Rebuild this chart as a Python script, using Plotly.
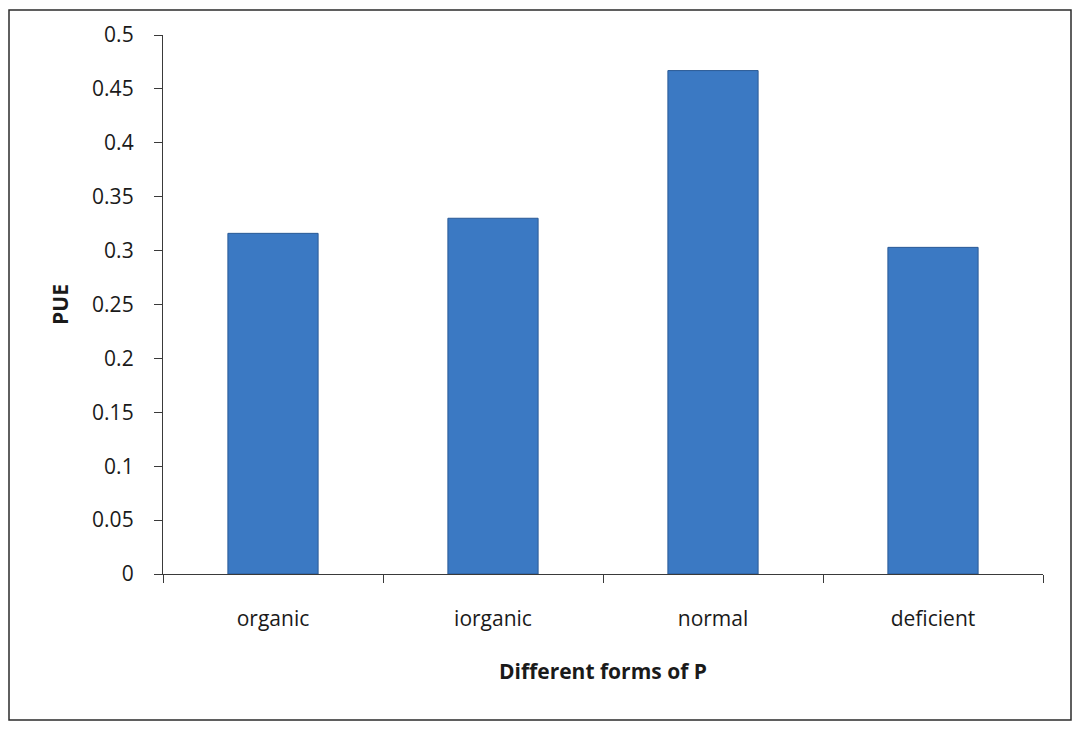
import plotly.graph_objects as go

# PUE for each form of phosphorus
categories = ["organic", "iorganic", "normal", "deficient"]
pue_values = [0.316, 0.330, 0.467, 0.303]
y_ticks = [0, 0.05, 0.1, 0.15, 0.2, 0.25, 0.3, 0.35, 0.4, 0.45, 0.5]
y_tick_labels = ["0", "0.05", "0.1", "0.15", "0.2", "0.25", "0.3", "0.35", "0.4", "0.45", "0.5"]

FONT = "'Open Sans', Lato, sans-serif"
TEXT = "#1a1a1a"
AXIS = "#3a3a3a"

# plot area in pixels, used to place the outer frame
PLOT_L, PLOT_R, PLOT_T, PLOT_B = 163, 1043, 35, 574
PW, PH = PLOT_R - PLOT_L, PLOT_B - PLOT_T

fig = go.Figure(
    go.Bar(
        x=categories,
        y=pue_values,
        marker=dict(color="#3b79c3", line=dict(color="#2a5a96", width=1)),
        width=0.41,
    )
)

fig.update_layout(
    width=1083,
    height=730,
    margin=dict(l=PLOT_L, r=1083 - PLOT_R, t=PLOT_T, b=730 - PLOT_B),
    paper_bgcolor="white",
    plot_bgcolor="white",
    showlegend=False,
    font=dict(family=FONT, size=21, color=TEXT),
    shapes=[
        dict(
            type="rect", xref="paper", yref="paper",
            x0=(9 - PLOT_L) / PW, x1=(1071 - PLOT_L) / PW,
            y0=(PLOT_B - 720) / PH, y1=1 + (PLOT_T - 10) / PH,
            line=dict(color="#2b2b2b", width=1.5), fillcolor="rgba(0,0,0,0)",
            layer="below",
        )
    ],
)

fig.update_xaxes(
    showline=True, linecolor=AXIS, linewidth=1.3,
    ticks="outside", tickson="boundaries", ticklen=8, tickcolor=AXIS,
    showgrid=False, zeroline=False,
    tickfont=dict(size=21, family=FONT, color=TEXT),
    ticklabelstandoff=26,
    title=dict(text="<b>Different forms of P</b>", font=dict(size=21, family=FONT, color=TEXT), standoff=32),
)

fig.update_yaxes(
    range=[0, 0.5],
    tickvals=y_ticks, ticktext=y_tick_labels,
    showline=True, linecolor=AXIS, linewidth=1.3,
    ticks="outside", ticklen=8, tickcolor=AXIS,
    showgrid=False, zeroline=False,
    tickfont=dict(size=21, family=FONT, color=TEXT),
    ticklabelstandoff=16,
    title=dict(text="<b>PUE</b>", font=dict(size=21, family=FONT, color=TEXT), standoff=17),
)

fig.write_html("out.html")
